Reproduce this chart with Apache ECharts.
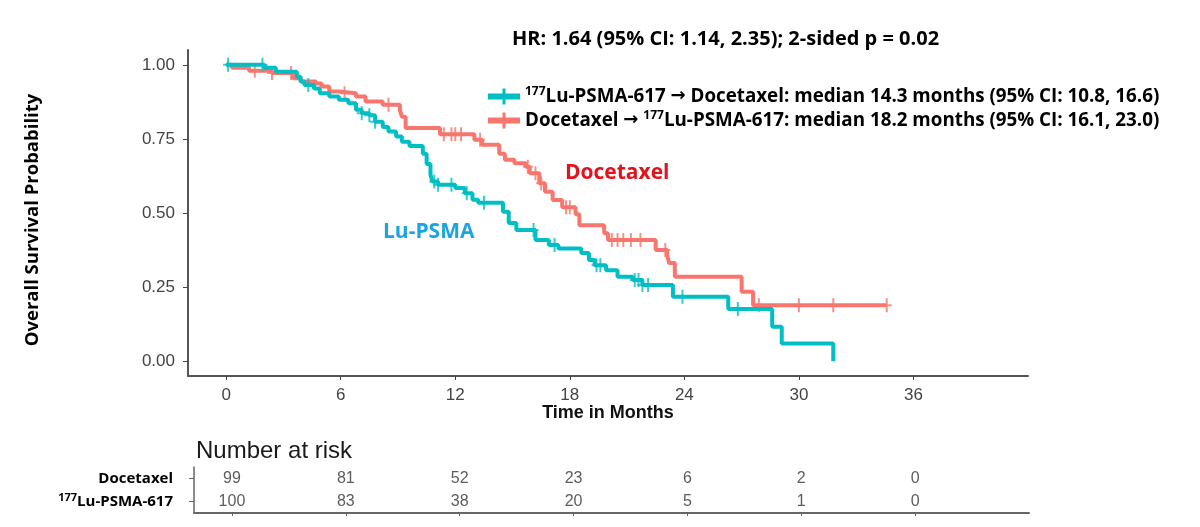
<!DOCTYPE html>
<html>
<head>
<meta charset="utf-8">
<title>Overall survival - crossover KM</title>
<script src="https://cdn.jsdelivr.net/npm/echarts@6/dist/echarts.min.js"></script>
<style>
    html, body { margin: 0; padding: 0; background: #fff; }
    #km_chart { width: 1200px; height: 527px; }
</style>
</head>
<body>
<div id="km_chart"></div>
<script>

// Data
// ------------------------------

// Docetaxel -> 177Lu-PSMA-617 (event times in months / survival after the drop)
var doceTimes = [0, 0.3, 1.2, 2.4, 3.5, 3.9, 4.7, 5.0, 5.4, 5.9, 6.8, 7.3, 8.2, 9.1, 9.2, 9.4,
    11.2, 13.0, 13.4, 14.3, 14.6, 15.1, 15.7, 15.9, 16.4, 16.7, 17.1, 17.6, 18.3, 18.5,
    19.8, 20.0, 22.5, 23.1, 23.2, 23.5, 27.0, 27.6, 34.6];
var doceSurv = [1.0, 0.99, 0.98, 0.972, 0.955, 0.944, 0.937, 0.927, 0.91, 0.904, 0.893, 0.876, 0.865, 0.848, 0.825, 0.787,
    0.766, 0.747, 0.73, 0.70, 0.68, 0.668, 0.656, 0.634, 0.60, 0.572, 0.544, 0.519, 0.496, 0.459,
    0.432, 0.409, 0.375, 0.358, 0.331, 0.285, 0.234, 0.189, 0.189];
var doceCensor = [1.5, 2.4, 3.4, 6.2, 8.5, 11.4, 11.8, 12.0, 12.3, 13.3, 15.8, 16.2, 16.5, 17.8, 18.0,
    20.2, 20.5, 20.8, 21.2, 21.7, 23.0, 27.9, 30.0, 31.8, 34.6];

// 177Lu-PSMA-617 -> Docetaxel
var luTimes = [0, 2.0, 2.6, 3.7, 3.9, 4.1, 4.6, 4.9, 5.4, 5.9, 6.4, 6.8, 7.1, 7.5, 7.8, 8.2, 8.5, 8.9,
    9.2, 9.6, 10.3, 10.5, 10.7, 10.8, 11.1, 12.0, 12.5, 12.9, 13.2, 14.5, 14.8, 15.2, 16.2,
    16.9, 17.4, 18.6, 19.0, 19.3, 19.9, 20.5, 21.3, 21.8, 23.4, 26.3, 28.6, 29.1, 31.8];
var luSurv = [1.0, 0.99, 0.977, 0.96, 0.944, 0.932, 0.92, 0.904, 0.893, 0.882, 0.87, 0.848, 0.837, 0.83, 0.808, 0.79, 0.775, 0.758,
    0.74, 0.726, 0.70, 0.665, 0.63, 0.606, 0.595, 0.584, 0.567, 0.545, 0.535, 0.504, 0.466, 0.443, 0.409,
    0.392, 0.38, 0.365, 0.341, 0.324, 0.307, 0.285, 0.274, 0.257, 0.217, 0.176, 0.116, 0.06, 0.0];
var luCensor = [0.1, 1.9, 4.3, 7.1, 7.5, 7.8, 10.9, 11.1, 11.8, 12.6, 13.5, 16.1, 17.2, 19.4, 19.6,
    21.4, 21.6, 21.8, 22.1, 23.9, 26.8];

// Number at risk
var riskTimes = [0, 6, 12, 18, 24, 30, 36];
var riskDoce = [99, 81, 52, 23, 6, 2, 0];
var riskLu = [100, 83, 38, 20, 5, 1, 0];

// Axis ticks
var monthTicks = [0, 6, 12, 18, 24, 30, 36];
var survTicks = [0, 0.25, 0.5, 0.75, 1.0];


// Helpers
// ------------------------------

var RED = '#F8766D';
var CYAN = '#00BFC4';
var PLUS = 'path://M4,0h2v14h-2zM0,6h10v2h-10z';
var LEGEND_ICON = 'path://M0,5h32v6h-32zM14.5,0h3v16h-3z';

function pairs(xs, ys) {
    return xs.map(function(x, i) { return [x, ys[i]]; });
}

// survival value of the step curve at time t
function survAt(times, surv, t) {
    var s = surv[0];
    for (var i = 0; i < times.length; i++) {
        if (times[i] <= t) s = surv[i];
    }
    return s;
}

function censorPoints(cens, times, surv) {
    return cens.map(function(t) { return [t, survAt(times, surv, t)]; });
}

function riskRow(row, values) {
    return riskTimes.map(function(t, i) { return [t, row, values[i]]; });
}


// Chart
// ------------------------------

var km_element = document.getElementById('km_chart');
var km_chart = echarts.init(km_element, null, { renderer: 'canvas' });

km_chart.setOption({
    animation: false,
    backgroundColor: '#fff',
    textStyle: { fontFamily: 'Liberation Sans, Arial, sans-serif' },

    title: {
        text: 'Number at risk',
        left: 191,
        top: 434,
        textStyle: { fontSize: 24, fontWeight: 'normal', color: '#1a1a1a', fontFamily: 'Liberation Sans, Arial' }
    },

    legend: {
        orient: 'vertical',
        left: 483,
        top: 81,
        itemWidth: 32,
        itemHeight: 16,
        itemGap: 4,
        symbolKeepAspect: false,
        selectedMode: false,
        data: [
            { name: 'lu', icon: LEGEND_ICON, itemStyle: { color: CYAN } },
            { name: 'doce', icon: LEGEND_ICON, itemStyle: { color: RED } }
        ],
        formatter: function(name) {
            if (name === 'lu') {
                return '{sup|177}{b|Lu-PSMA-617 }{arr|\u2192}{b| Docetaxel: median 14.3 months (95% CI: 10.8, 16.6)}';
            }
            return '{b|Docetaxel }{arr|\u2192}{b| }{sup|177}{b|Lu-PSMA-617: median 18.2 months (95% CI: 16.1, 23.0)}';
        },
        textStyle: {
            rich: {
                b: { fontSize: 18.8, fontWeight: 'bold', fontFamily: 'Open Sans', color: '#000', lineHeight: 21 },
                arr: { fontSize: 18, fontWeight: 'bold', fontFamily: 'DejaVu Sans', color: '#000', lineHeight: 21 },
                sup: { fontSize: 12, fontWeight: 'bold', fontFamily: 'Open Sans', color: '#000', verticalAlign: 'top', lineHeight: 13 }
            }
        }
    },

    graphic: [
        {
            type: 'text', left: 512, top: 29,
            style: { text: 'HR: 1.64 (95% CI: 1.14, 2.35); 2-sided p = 0.02', fontSize: 20, fontWeight: 'bold', fontFamily: 'Open Sans', fill: '#000' }
        },
        {
            type: 'text', left: 565, top: 163,
            style: { text: 'Docetaxel', fontSize: 21, fontWeight: 'bold', fontFamily: 'Open Sans', fill: '#E3121B' }
        },
        {
            type: 'text', left: 383, top: 222,
            style: { text: 'Lu-PSMA', fontSize: 21, fontWeight: 'bold', fontFamily: 'Open Sans', fill: '#1BA3E2' }
        },
        {
            // y-axis title, placed a little lower than the grid middle as in the original
            type: 'text', x: 33, y: 220, rotation: Math.PI / 2,
            style: {
                text: 'Overall Survival Probability', fontSize: 18.5, fontWeight: 'bold', fontFamily: 'Open Sans',
                fill: '#000', align: 'center', verticalAlign: 'middle'
            }
        }
    ],

    grid: [
        { left: 188, right: 172, top: 50, bottom: 151, containLabel: false, outerBoundsMode: 'none' },
        { left: 194, right: 171, top: 467, bottom: 14, containLabel: false, outerBoundsMode: 'none' }
    ],

    xAxis: [
        {
            type: 'value', gridIndex: 0, min: -2, max: 42,
            name: 'Time in Months', nameLocation: 'middle', nameGap: 28, nameMoveOverlap: false,
            nameTextStyle: { fontSize: 18, fontWeight: 'bold', color: '#111', fontFamily: 'Liberation Sans, Arial' },
            splitLine: { show: false },
            axisLine: { show: true, onZero: false, lineStyle: { color: '#555', width: 2 } },
            axisTick: { show: true, customValues: monthTicks, length: 4, lineStyle: { color: '#444' } },
            axisLabel: { customValues: monthTicks, fontSize: 17, color: '#444', margin: 11 }
        },
        {
            type: 'value', gridIndex: 1, min: -2, max: 42,
            splitLine: { show: false },
            axisLine: { show: true, onZero: false, lineStyle: { color: '#666', width: 2 } },
            axisTick: { show: true, customValues: monthTicks, length: 3, lineStyle: { color: '#666' } },
            axisLabel: { show: false }
        }
    ],

    yAxis: [
        {
            type: 'value', gridIndex: 0, min: -0.05, max: 1.05,
            splitLine: { show: false },
            axisLine: { show: true, onZero: false, lineStyle: { color: '#555', width: 2 } },
            axisTick: { show: true, customValues: survTicks, length: 5, lineStyle: { color: '#444' } },
            axisLabel: {
                customValues: survTicks, fontSize: 17, color: '#444', margin: 13,
                formatter: function(v) { return v.toFixed(2); }
            }
        },
        {
            type: 'category', gridIndex: 1, data: ['lu', 'doce'],
            axisLine: { show: true, onZero: false, lineStyle: { color: '#666', width: 1.5 } },
            axisTick: { show: true, alignWithLabel: true, length: 5, lineStyle: { color: '#666' } },
            axisLabel: {
                margin: 21,
                formatter: function(v) {
                    return v === 'doce' ? '{b|Docetaxel}' : '{sup|177}{b|Lu-PSMA-617}';
                },
                rich: {
                    b: { fontSize: 15, fontWeight: 'bold', fontFamily: 'Open Sans', color: '#000', lineHeight: 19 },
                    sup: { fontSize: 11, fontWeight: 'bold', fontFamily: 'Open Sans', color: '#000', verticalAlign: 'top', lineHeight: 11 }
                }
            }
        }
    ],

    series: [
        {
            name: 'doce', type: 'line', step: 'end', xAxisIndex: 0, yAxisIndex: 0,
            symbol: 'none', color: RED, lineStyle: { color: RED, width: 4 },
            data: pairs(doceTimes, doceSurv), z: 2
        },
        {
            name: 'lu', type: 'line', step: 'end', xAxisIndex: 0, yAxisIndex: 0,
            symbol: 'none', color: CYAN, lineStyle: { color: CYAN, width: 4 },
            data: pairs(luTimes, luSurv), z: 3
        },
        {
            name: 'doceCensor', type: 'scatter', xAxisIndex: 0, yAxisIndex: 0,
            symbol: PLUS, symbolSize: [10, 14], itemStyle: { color: RED },
            data: censorPoints(doceCensor, doceTimes, doceSurv), z: 2
        },
        {
            name: 'luCensor', type: 'scatter', xAxisIndex: 0, yAxisIndex: 0,
            symbol: PLUS, symbolSize: [10, 14], itemStyle: { color: CYAN },
            data: censorPoints(luCensor, luTimes, luSurv), z: 3
        },
        {
            name: 'risk', type: 'scatter', xAxisIndex: 1, yAxisIndex: 1,
            symbolSize: 1, itemStyle: { color: 'rgba(0,0,0,0)' },
            label: {
                show: true, position: 'inside', fontSize: 16, color: '#333',
                fontFamily: 'Liberation Sans, Arial',
                formatter: function(p) { return p.value[2]; }
            },
            data: riskRow('doce', riskDoce).concat(riskRow('lu', riskLu))
        }
    ]
});

</script>
</body>
</html>
